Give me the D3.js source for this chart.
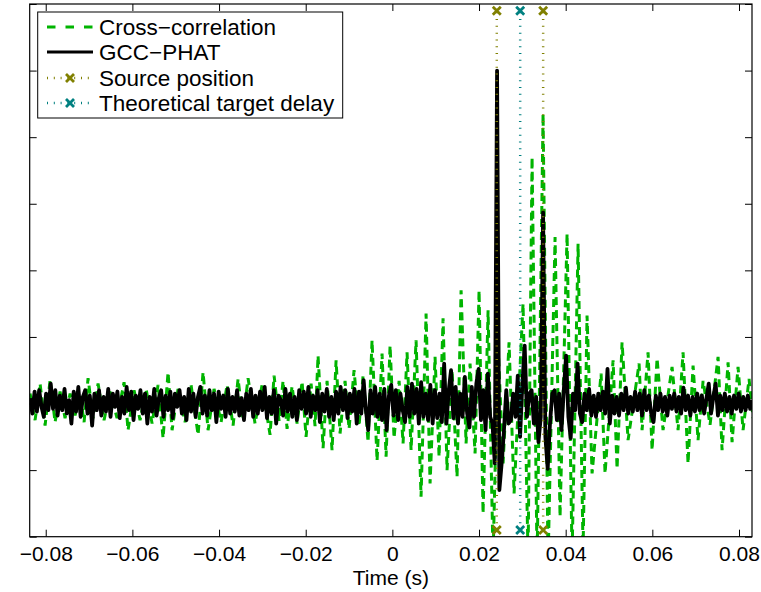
<!DOCTYPE html>
<html>
<head>
<meta charset="utf-8">
<script src="https://cdn.jsdelivr.net/npm/d3@7"></script>
<style>
html,body{margin:0;padding:0;background:#fff;}
text{font-family:"Liberation Sans",Arial,Helvetica,sans-serif;fill:#000;}
</style>
</head>
<body>
<script>
// ---- DATA ----
const xTicks = [-0.08, -0.06, -0.04, -0.02, 0, 0.02, 0.04, 0.06, 0.08];
const xTickLabels = ["\u22120.08", "\u22120.06", "\u22120.04", "\u22120.02", "0", "0.02", "0.04", "0.06", "0.08"];
const yTicks = [-2, -1, 0, 1, 2, 3, 4, 5, 6];
const seriesNames = ["Cross\u2212correlation", "GCC\u2212PHAT", "Source position", "Theoretical target delay"];

// Cross-correlation: extrema (time in ms, value)
const xcorrTimeMs = [
-83.62,-82.46,-81.31,-80.15,-79.00,-77.84,-76.69,-75.54,-74.38,-73.23,-72.08,-71.15,-70.23,-69.08,-67.92,-66.54,-65.15,-63.54,-61.92,-61.00,
-59.61,-58.23,-56.84,-55.46,-54.07,-52.92,-51.77,-50.84,-49.46,-47.84,-46.46,-44.84,-43.69,-42.53,-41.15,-39.53,-38.15,-36.76,-35.61,-34.46,
-33.30,-31.69,-30.07,-28.23,-27.30,-26.15,-25.23,-24.30,-23.15,-21.99,-20.84,-19.92,-18.76,-17.84,-17.15,-15.99,-15.07,-13.92,-12.99,-12.07,
-10.92,-9.99,-8.84,-7.69,-6.76,-5.61,-4.69,-3.53,-2.38,-1.45,-0.53,0.39,1.55,2.47,3.39,4.32,5.47,6.62,7.78,8.70,
9.85,10.78,11.70,12.62,13.78,14.93,15.86,17.01,17.93,19.09,20.01,20.93,22.09,23.24,24.39,25.55,26.93,28.09,30.16,31.32,
32.24,33.40,34.78,35.93,37.55,38.70,40.32,41.47,42.86,44.01,44.93,46.09,48.17,49.09,50.94,51.86,53.01,54.40,56.94,57.63,
59.01,59.94,61.09,62.47,64.55,65.94,67.09,68.24,69.40,70.55,71.71,73.32,75.17,76.09,77.48,78.40,79.78,80.94,82.32,83.25
];
const xcorrValue = [
0.15,-0.25,0.30,-0.33,0.35,-0.28,0.18,-0.22,0.15,-0.18,0.15,-0.28,0.38,-0.22,0.30,-0.25,0.18,-0.22,0.32,-0.40,
0.20,-0.25,0.22,-0.30,0.28,-0.52,0.47,-0.40,0.22,-0.28,0.28,-0.47,0.47,-0.40,0.22,-0.28,0.28,-0.33,0.37,-0.25,
0.38,-0.30,0.28,-0.47,0.42,-0.26,0.34,-0.38,0.26,-0.30,0.33,-0.50,0.30,-0.34,0.72,-0.67,0.34,-0.70,0.65,-0.45,
0.34,-0.38,0.50,-0.34,0.42,-0.58,0.95,-0.86,0.75,-0.80,0.87,-0.52,0.34,-0.60,0.77,-0.70,0.95,-1.40,1.35,-1.20,
0.70,-0.80,1.28,-1.00,0.50,-1.10,1.70,-0.60,0.60,-0.75,1.70,-1.65,1.40,-2.30,0.90,-0.90,0.92,-1.35,1.50,-2.30,
3.70,-2.40,4.35,-2.40,2.50,-1.70,2.55,-2.30,2.40,-2.20,1.32,-1.05,0.45,-1.05,0.65,-0.98,0.92,-0.55,0.60,-0.40,
0.77,-0.70,0.68,-0.40,0.55,-0.40,0.77,-0.90,0.57,-0.55,0.34,-0.32,0.70,-0.70,0.62,-0.58,0.55,-0.40,0.37,-0.22
];

const gccStartMs = -83.63;
const gccStepMs = 0.531;
const gccValue = [
0.08,-0.15,0.18,-0.12,0.20,-0.05,-0.20,0.15,-0.10,0.30,
-0.08,0.20,-0.18,0.12,-0.10,0.22,-0.15,0.05,-0.30,0.18,
-0.12,0.25,-0.20,0.10,0.20,-0.15,0.12,-0.33,0.15,-0.10,
0.20,-0.18,0.10,-0.12,0.22,-0.20,0.15,-0.05,0.18,-0.22,
0.10,-0.15,0.25,-0.10,0.18,-0.25,0.12,-0.08,0.20,-0.15,
0.15,-0.30,0.10,-0.12,0.22,-0.18,0.08,0.20,-0.20,0.12,
-0.10,0.18,-0.22,0.15,-0.05,0.20,-0.15,0.10,-0.25,0.22,
-0.12,0.15,-0.20,0.10,0.25,-0.15,0.12,-0.18,0.20,-0.10,
0.15,-0.28,0.18,-0.08,0.12,-0.20,0.22,-0.15,0.10,-0.12,
0.20,-0.18,0.08,-0.25,0.15,-0.10,0.22,-0.20,0.12,-0.15,
0.18,-0.10,0.25,-0.22,0.10,-0.15,0.20,-0.30,0.12,0.05,
-0.18,0.22,-0.12,0.15,-0.20,0.10,-0.25,0.20,-0.08,0.18,
-0.15,0.25,-0.20,0.12,-0.10,0.20,-0.28,0.15,-0.12,0.22,
-0.20,0.10,-0.25,0.18,-0.15,0.25,-0.10,0.20,-0.22,0.15,
-0.12,0.22,-0.30,0.18,-0.15,0.35,-0.10,-0.40,0.20,-0.15,
0.25,-0.20,0.15,-0.25,0.22,-0.40,0.12,0.28,-0.18,0.20,
-0.25,0.15,-0.10,-0.28,0.25,-0.20,0.30,-0.15,0.22,-0.30,
0.32,-0.20,0.15,-0.25,0.28,-0.30,0.20,-0.22,0.15,-0.28,
0.60,-0.30,0.20,0.50,-0.22,0.25,-0.30,0.15,-0.20,0.40,
-0.15,-0.36,0.25,-0.20,0.30,0.52,-0.25,0.20,-0.40,0.45,
-0.20,-0.30,-0.90,5.00,-1.30,-0.90,-0.40,0.20,-0.30,-0.25,
0.15,-0.20,0.42,-0.50,0.30,0.87,-0.20,0.15,0.20,-0.30,
0.10,-0.58,-0.20,2.87,-0.50,-0.98,-0.30,0.15,0.20,-0.25,
0.15,-0.40,0.20,0.72,-0.20,-0.52,0.15,-0.10,0.60,-0.15,
-0.28,0.15,-0.10,0.22,-0.18,0.12,-0.20,0.15,-0.10,0.18,
-0.15,0.52,-0.30,0.12,-0.15,0.10,-0.18,0.15,-0.10,0.24,
-0.15,0.10,-0.12,0.18,-0.10,0.15,-0.18,0.20,-0.10,0.12,
-0.15,-0.28,0.12,-0.10,0.15,-0.12,0.10,-0.18,0.12,-0.08,
0.15,-0.12,0.10,-0.15,0.24,-0.10,0.12,-0.18,0.10,-0.12,
0.15,-0.10,0.12,-0.15,0.08,0.30,-0.15,0.10,0.30,-0.18,
0.12,-0.10,0.15,-0.12,0.10,-0.15,0.12,-0.08,0.15,-0.12,
0.10,-0.10,0.12,-0.08,0.05
];

const sourcePositions = [0.0241, 0.0348];
const targetDelays = [0.0295];
const markerLineY = [-1.9, 5.9];

// ---- LAYOUT ----
const W = 761, H = 592;
const L = 29.7, R = 752, T = 4, B = 536.7;
const green = "#00b400", olive = "#808000", teal = "#008080";

const x = d3.scaleLinear().domain([-0.0837, 0.0830]).range([L, R]);
const y = d3.scaleLinear().domain([-2, 6]).range([B, T]);

const svg = d3.select("body").append("svg").attr("width", W).attr("height", H);

svg.append("defs").append("clipPath").attr("id", "clip")
  .append("rect").attr("x", L).attr("y", T).attr("width", R - L).attr("height", B - T);

const plot = svg.append("g").attr("clip-path", "url(#clip)");

const xcorrData = xcorrTimeMs.map((t, i) => [t / 1000, xcorrValue[i]]);
const gccData = gccValue.map((v, i) => [(gccStartMs + i * gccStepMs) / 1000, v]);
const line = d3.line().x(d => x(d[0])).y(d => y(d[1]));

plot.append("path").datum(xcorrData).attr("d", line)
  .attr("fill", "none").attr("stroke", green).attr("stroke-width", 3)
  .attr("stroke-dasharray", "8,5");

plot.append("path").datum(gccData).attr("d", line)
  .attr("fill", "none").attr("stroke", "#000").attr("stroke-width", 3.8)
  .attr("stroke-linejoin", "round");

function xMarker(g, cx, cy, color) {
  const s = 4;
  g.append("path").attr("d", `M${cx - s},${cy - s}L${cx + s},${cy + s}M${cx - s},${cy + s}L${cx + s},${cy - s}`)
    .attr("stroke", color).attr("stroke-width", 2.8).attr("fill", "none");
}

function markerLines(vals, color) {
  vals.forEach(v => {
    plot.append("line").attr("x1", x(v)).attr("x2", x(v))
      .attr("y1", y(markerLineY[0])).attr("y2", y(markerLineY[1]))
      .attr("stroke", color).attr("stroke-width", 2.5).attr("stroke-dasharray", "1,5.8");
    markerLineY.forEach(m => xMarker(plot, x(v), y(m), color));
  });
}
markerLines(sourcePositions, olive);
markerLines(targetDelays, teal);

// ---- AXES ----
const axB = svg.append("g").attr("transform", `translate(0,${B})`)
  .call(d3.axisBottom(x).tickValues(xTicks).tickFormat((d, i) => xTickLabels[i]).tickSizeInner(-7).tickSizeOuter(0).tickPadding(9.5));
const axT = svg.append("g").attr("transform", `translate(0,${T})`)
  .call(d3.axisTop(x).tickValues(xTicks).tickFormat("").tickSizeInner(-7).tickSizeOuter(0));
const axL = svg.append("g").attr("transform", `translate(${L},0)`)
  .call(d3.axisLeft(y).tickValues(yTicks).tickFormat("").tickSizeInner(-7).tickSizeOuter(0));
const axR = svg.append("g").attr("transform", `translate(${R},0)`)
  .call(d3.axisRight(y).tickValues(yTicks).tickFormat("").tickSizeInner(-7).tickSizeOuter(0));
[axB, axT, axL, axR].forEach(a => {
  a.select(".domain").remove();
  a.selectAll(".tick line").attr("stroke", "#000").attr("stroke-width", 1);
});
axB.selectAll(".tick text").attr("font-size", 21).attr("font-family", "Liberation Sans, Arial, sans-serif").attr("fill", "#000");

svg.append("rect").attr("x", L).attr("y", T).attr("width", R - L).attr("height", B - T)
  .attr("fill", "none").attr("stroke", "#000").attr("stroke-width", 1.2);

svg.append("text").attr("x", (L + R) / 2).attr("y", 585).attr("text-anchor", "middle")
  .attr("font-size", 21).text("Time (s)");

// ---- LEGEND ----
const lg = svg.append("g");
lg.append("rect").attr("x", 37.7).attr("y", 12).attr("width", 305).attr("height", 106)
  .attr("fill", "#fff").attr("stroke", "#000").attr("stroke-width", 1);
const rowsY = [27, 52, 78, 103];
const lx1 = 47, lx2 = 93, tx = 99;
lg.append("line").attr("x1", lx1).attr("x2", lx2).attr("y1", rowsY[0]).attr("y2", rowsY[0])
  .attr("stroke", green).attr("stroke-width", 3).attr("stroke-dasharray", "8.5,10");
lg.append("line").attr("x1", lx1).attr("x2", lx2).attr("y1", rowsY[1]).attr("y2", rowsY[1])
  .attr("stroke", "#000").attr("stroke-width", 3);
[[olive, rowsY[2]], [teal, rowsY[3]]].forEach(([c, yy]) => {
  lg.append("line").attr("x1", lx1).attr("x2", lx2).attr("y1", yy).attr("y2", yy)
    .attr("stroke", c).attr("stroke-width", 2.5).attr("stroke-dasharray", "1,5.8");
  xMarker(lg, (lx1 + lx2) / 2, yy, c);
});
seriesNames.forEach((n, i) => {
  lg.append("text").attr("x", tx).attr("y", rowsY[i] + 8).attr("font-size", 22.5).text(n);
});
</script>
</body>
</html>
